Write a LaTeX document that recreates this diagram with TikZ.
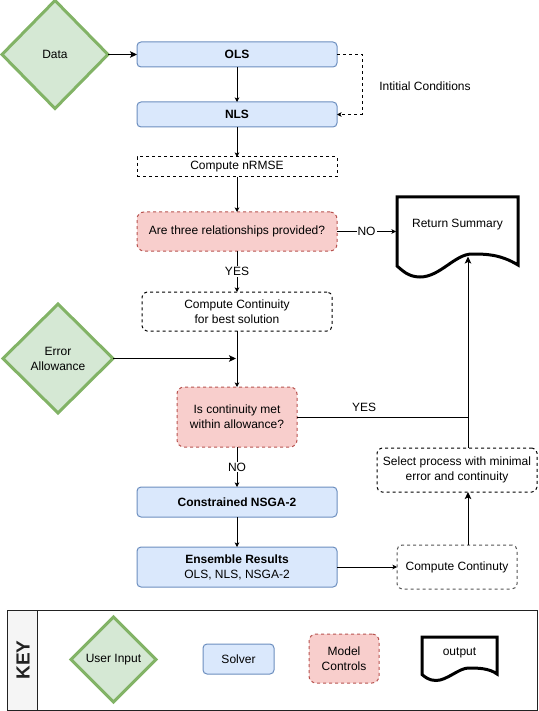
\documentclass[tikz,border=0pt]{standalone}
\usepackage{fontspec}
\setmainfont{Liberation Sans}
\usetikzlibrary{shapes.geometric,arrows.meta}
\definecolor{solverfill}{HTML}{DAE8FC}
\definecolor{solverline}{HTML}{6C8EBF}
\definecolor{ctrlfill}{HTML}{F8CECC}
\definecolor{ctrlline}{HTML}{B85450}
\definecolor{inpfill}{HTML}{D5E8D4}
\definecolor{inpline}{HTML}{82B366}
\definecolor{procgrey}{HTML}{555555}
\definecolor{keyfill}{HTML}{F5F5F5}
\definecolor{keyline}{HTML}{222222}
\begin{document}
\begin{tikzpicture}[x=1pt,y=-1pt,
  base/.style={inner sep=0pt, outer sep=0pt, font=\fontsize{12pt}{15pt}\selectfont, align=center},
  solver/.style={base, rectangle, rounded corners=4pt, draw=solverline, fill=solverfill, line width=1pt},
  ctrl/.style={base, rectangle, rounded corners=7pt, draw=ctrlline, fill=ctrlfill, line width=1pt, dash pattern=on 3pt off 3pt},
  proc/.style={base, rectangle, rounded corners=5pt, draw=black, line width=1pt, dash pattern=on 3pt off 3pt},
  inp/.style={base, diamond, draw=inpline, fill=inpfill, line width=3pt},
  doc/.style={draw=black, fill=white, line width=3pt, line join=miter},
  conn/.style={line width=1pt, -{Stealth[length=4.5pt,width=4.5pt,inset=1pt]}},
  bigconn/.style={line width=1pt, -{Stealth[length=7pt,width=6.5pt,inset=1.5pt]}},
  plain/.style={line width=1pt},
  lbl/.style={base, fill=white, inner sep=1pt}
]
\useasboundingbox (0,0) rectangle (538,711);

% helper coordinates
\coordinate (icR) at (362,0);
\coordinate (retL) at (396,0);
\coordinate (colTip) at (236,0);
\coordinate (vline) at (468,0);
\coordinate (retIn) at (468,256.5);

% main column
\node[inp, minimum width=106pt, minimum height=108pt] (data) at (55,54.5) {Data};
\node[solver, minimum width=200pt, minimum height=25pt] (ols) at (237,54.5) {\textbf{OLS}};
\node[solver, minimum width=200pt, minimum height=25pt] (nls) at (237,114.5) {\textbf{NLS}};
\node[proc, rounded corners=0pt, minimum width=200pt, minimum height=20pt] (nrmse) at (237,167) {Compute nRMSE};
\node[ctrl, minimum width=200pt, minimum height=39pt] (q1) at (237,231.5) {Are three relationships provided?};
\node[proc, minimum width=190pt, minimum height=39pt] (cc1) at (237,311.5) {Compute Continuity\\for best solution};
\node[inp, minimum width=110pt, minimum height=109pt] (err) at (58,358.5) {Error\\Allowance};
\node[ctrl, minimum width=120pt, minimum height=60pt] (q2) at (237,417) {Is continuity met\\within allowance?};
\node[solver, minimum width=200pt, minimum height=30pt] (nsga) at (237,502) {\textbf{Constrained NSGA-2}};
\node[solver, minimum width=200pt, minimum height=40pt] (ens) at (237,567) {\textbf{Ensemble Results}\\OLS, NLS, NSGA-2};
\node[proc, draw=procgrey, minimum width=120pt, minimum height=44pt] (cc2) at (457,567) {Compute Continuty};
\node[proc, minimum width=160pt, minimum height=44pt] (sel) at (457,470) {Select process with minimal\\error and continuity};

% Return Summary document
\draw[doc] (397,197) -- (518,197) -- (518,265)
  .. controls (500,254) and (485,254) .. (472,254)
  .. controls (455,254) and (440,277) .. (420,277)
  .. controls (408,277) and (402,270) .. (397,266) -- cycle;
\node[base] (ret) at (457.5,225) {Return Summary};

\node[base] (ic) at (425,86) {Intitial Conditions};

% connectors
\draw[bigconn] (data.east) -- (ols.west);
\draw[conn] (ols.south) -- (nls.north);
\draw[conn, dash pattern=on 3pt off 3pt] (ols.east) -- (ols.east -| icR) |- (nls.east);
\draw[conn] (nls.south) -- (nrmse.north);
\draw[conn] (nrmse.south) -- (q1.north);
\draw[conn] (q1.east) -- node[lbl] (nolbl) {NO} (q1.east -| retL);
\draw[conn] (q1.south) -- node[lbl] (yeslbl) {YES} (cc1.north);
\draw[conn] (cc1.south) -- (q2.north);
\draw[bigconn] (err.east) -- (err.east -| colTip);
\draw[conn] (q2.south) -- node[lbl] (nolbl2) {NO} (nsga.north);
\draw[conn] (nsga.south) -- (ens.north);
\draw[conn] (ens.east) -- (cc2.west);
\draw[bigconn] (cc2.north -| vline) -- (sel.south -| vline);
\draw[bigconn] (sel.north -| vline) -- (retIn);
\draw[plain] (q2.east) -- (q2.east -| vline);
\node[base] (yeslbl2) at (364,407) {YES};

% key
\node[draw=keyline, line width=1pt, fill=white, minimum width=530pt, minimum height=100pt, inner sep=0pt] (key) at (272,660) {};
\node[draw=keyline, line width=1pt, fill=keyfill, minimum width=30pt, minimum height=100pt, inner sep=0pt] (keystrip) at (22,660) {};
\node[base, rotate=90, text=keyline, font=\fontsize{19pt}{22pt}\selectfont\bfseries] (keytxt) at (23,660) {KEY};
\node[inp, minimum width=85pt, minimum height=85pt] (kin) at (113.5,659.5) {User Input};
\node[solver, minimum width=71pt, minimum height=30pt] (ksolver) at (238.5,659) {Solver};
\node[ctrl, minimum width=70pt, minimum height=49pt] (kctrl) at (344,658.5) {Model\\Controls};
\draw[doc] (422,637) -- (497,637) -- (497,674)
  .. controls (489,668) and (477,668) .. (468.5,668)
  .. controls (459,668) and (447,680.5) .. (436,680.5)
  .. controls (429,680.5) and (425,677) .. (422,674.5) -- cycle;
\node[base] (kout) at (459.5,653) {output};
\end{tikzpicture}
\end{document}
